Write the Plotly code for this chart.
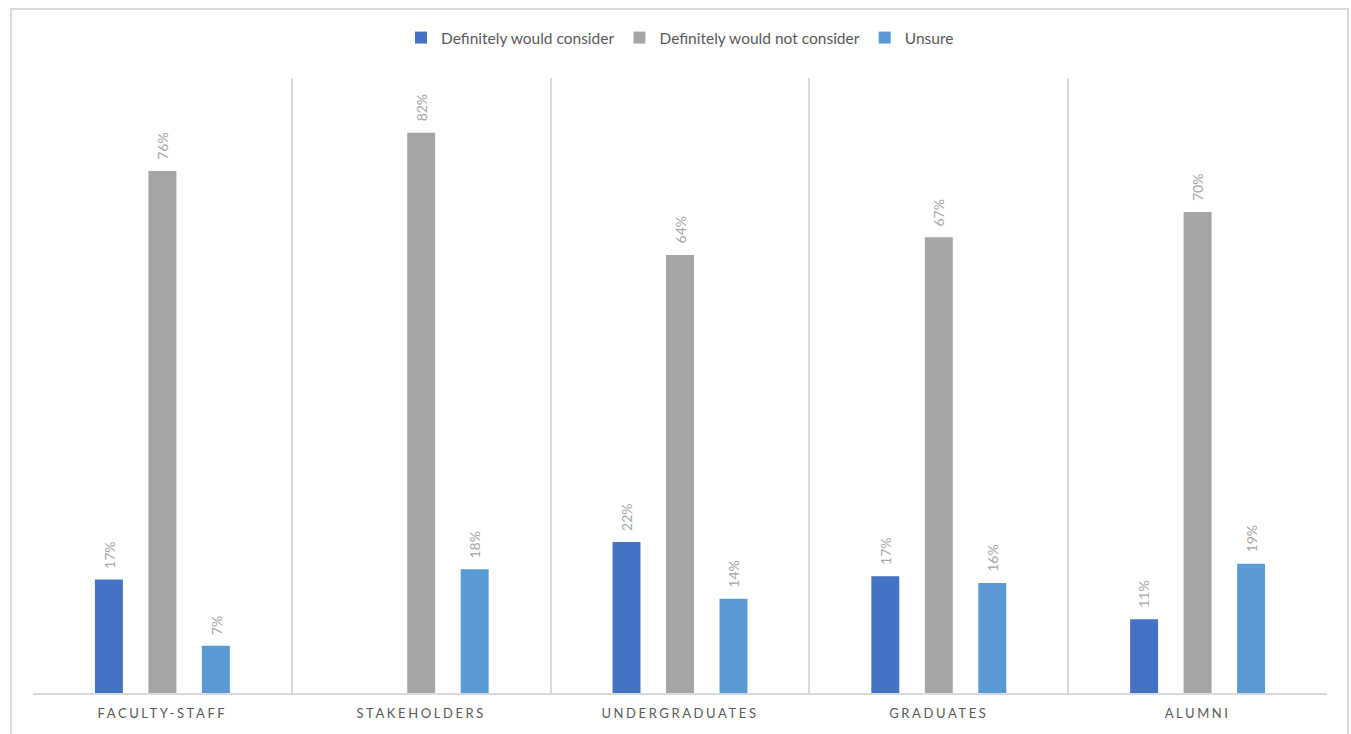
import plotly.graph_objects as go

categories = ["FACULTY-STAFF", "STAKEHOLDERS", "UNDERGRADUATES", "GRADUATES", "ALUMNI"]
would_consider = [16.6, None, 22.1, 17.1, 10.8]
would_not_consider = [76.4, 82.0, 64.1, 66.7, 70.4]
unsure = [6.9, 18.1, 13.8, 16.1, 18.9]
series_names = ["Definitely would consider", "Definitely would not consider", "Unsure"]
series_colors = ["#4472C4", "#A5A5A5", "#5B9BD5"]

FONT = "Lato, 'Open Sans', sans-serif"

W, H = 1351, 734
ml, mr, mt, mb = 33, 24, 78, 41
pw, ph = W - ml - mr, H - mt - mb
BARGAP = 0.38
cat_w = pw / len(categories)
slot = (1 - BARGAP) * cat_w / 3

fig = go.Figure()
annotations = []
all_series = [would_consider, would_not_consider, unsure]
for i, (name, vals, col) in enumerate(zip(series_names, all_series, series_colors)):
    fig.add_trace(go.Bar(
        name=name, x=categories, y=vals,
        marker=dict(color=col, line=dict(width=0)),
    ))
    for c, v in zip(categories, vals):
        if v is None:
            continue
        annotations.append(dict(
            x=c, y=v, xref="x", yref="y", text=f"{v:.0f}%", showarrow=False,
            textangle=-90, xanchor="center", yanchor="bottom",
            xshift=(i - 1) * slot, yshift=9,
            font=dict(color="#A6A6A6", size=14, family=FONT),
        ))

fig.update_layout(
    width=W, height=H,
    margin=dict(l=ml, r=mr, t=mt, b=mb),
    paper_bgcolor="white", plot_bgcolor="white",
    barmode="group", bargap=BARGAP, bargroupgap=0.477,
    font=dict(family=FONT, color="#595959"),
    legend=dict(orientation="h", x=0.5, xanchor="center", y=1 + 40 / ph, yanchor="middle",
                font=dict(size=15.5, color="#595959", family=FONT), itemwidth=30,
                traceorder="normal"),
    xaxis=dict(showline=True, linecolor="#D9D9D9", linewidth=1.5,
               showgrid=True, gridcolor="#D9D9D9", gridwidth=1.5,
               tickson="boundaries", ticks="", ticklabelstandoff=8,
               tickfont=dict(size=13, color="#595959", family=FONT)),
    yaxis=dict(range=[0, 90], visible=False),
    annotations=annotations,
    shapes=[dict(type="rect", xref="paper", yref="paper",
                 x0=(11 - ml) / pw, x1=(1348 - ml) / pw,
                 y0=(H - mb - 745) / ph, y1=(H - mb - 9) / ph,
                 line=dict(color="#D9D9D9", width=2), fillcolor="rgba(0,0,0,0)", layer="below")],
)

post = """
document.body.style.margin = '0';
document.querySelectorAll('.xtick text').forEach(function(t){ t.style.letterSpacing = '2.6px'; });
"""
fig.write_html("out.html", post_script=post, config={"displayModeBar": False})
